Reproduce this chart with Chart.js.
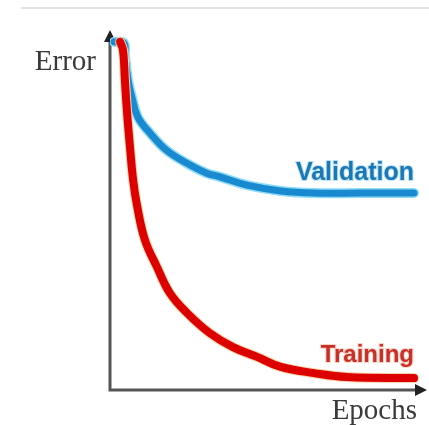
<!DOCTYPE html>
<html lang="en">
<head>
    <meta charset="UTF-8">
    <title>Error vs Epochs</title>
    <script src="https://cdn.jsdelivr.net/npm/chart.js@4.4.0/dist/chart.umd.min.js"></script>
    <style>
        body { margin: 0; background: #fff; }
    </style>
</head>
<body>

    <canvas id="myChart" width="429" height="425"></canvas>

    <script>
// curve points (x = epochs, y = error, both 0..100)
const validationX = [1.3, 4.4, 4.7, 5.7, 6.9, 8.8, 12.6, 17.7, 24.0, 30.3, 34.7, 43.2, 53.9, 64.4, 78.9, 95.9];
const validationY = [96.7, 96.4, 93.1, 86.1, 81.4, 75.8, 71.4, 66.7, 63.1, 60.3, 59.2, 56.9, 55.3, 54.7, 54.7, 54.7];

const trainingX = [3.2, 4.1, 4.7, 5.4, 6.3, 7.3, 8.5, 11.0, 14.8, 18.9, 24.3, 31.5, 38.8, 46.4, 53.9, 64.4, 74.8, 95.9];
const trainingY = [96.7, 94.4, 86.1, 76.9, 67.5, 58.3, 51.4, 41.7, 34.2, 26.9, 21.4, 15.8, 11.9, 9.2, 6.4, 4.7, 3.6, 3.3];

const axisLabels = ['Epochs', 'Error'];
const seriesLabels = ['Validation', 'Training'];

function points(xs, ys) {
    return xs.map((x, i) => ({ x: x, y: ys[i] }));
}

// axes with arrows, labels and the curve names
const decor = {
    id: 'decor',
    beforeDatasetsDraw(chart) {
        const ctx = chart.ctx;
        const a = chart.chartArea;
        ctx.save();
        // thin grey rule at the top
        ctx.strokeStyle = '#e2e2e2';
        ctx.lineWidth = 2;
        ctx.beginPath();
        ctx.moveTo(21, 8);
        ctx.lineTo(429, 8);
        ctx.stroke();

        ctx.strokeStyle = '#555';
        ctx.lineWidth = 3;
        ctx.beginPath();
        ctx.moveTo(a.left, a.top + 6);
        ctx.lineTo(a.left, a.bottom);
        ctx.lineTo(a.right - 6, a.bottom);
        ctx.stroke();

        ctx.fillStyle = '#222';
        ctx.beginPath();
        ctx.moveTo(a.left, a.top);
        ctx.lineTo(a.left - 6, a.top + 12);
        ctx.lineTo(a.left + 6, a.top + 12);
        ctx.closePath();
        ctx.fill();
        ctx.beginPath();
        ctx.moveTo(a.right, a.bottom);
        ctx.lineTo(a.right - 12, a.bottom - 6);
        ctx.lineTo(a.right - 12, a.bottom + 6);
        ctx.closePath();
        ctx.fill();

        ctx.fillStyle = '#3a3a3a';
        ctx.font = '29px "Liberation Serif", "DejaVu Serif", serif';
        ctx.textBaseline = 'alphabetic';
        ctx.textAlign = 'right';
        ctx.fillText(axisLabels[1], 96, 70);
        ctx.fillText(axisLabels[0], 417, 419);
        ctx.restore();
    },
    afterDatasetsDraw(chart) {
        const ctx = chart.ctx;
        ctx.save();
        ctx.font = 'bold 25px "Liberation Sans", Arial, sans-serif';
        ctx.textAlign = 'right';
        ctx.textBaseline = 'alphabetic';
        ctx.lineWidth = 2;
        ctx.strokeStyle = 'rgba(120,200,240,0.5)';
        ctx.strokeText(seriesLabels[0], 414, 180);
        ctx.fillStyle = '#1c78b4';
        ctx.fillText(seriesLabels[0], 414, 180);
        ctx.font = 'bold 24px "Liberation Sans", Arial, sans-serif';
        ctx.strokeStyle = 'rgba(240,170,140,0.5)';
        ctx.strokeText(seriesLabels[1], 414, 362);
        ctx.fillStyle = '#c9302a';
        ctx.fillText(seriesLabels[1], 414, 362);
        ctx.restore();
    }
};

const ctx = document.getElementById('myChart').getContext('2d');

// higher "order" is drawn first (underneath)
const myChart = new Chart(ctx, {
    type: 'line',
    data: {
        datasets: [{
            label: seriesLabels[0] + ' glow',
            data: points(validationX, validationY),
            borderColor: '#8fdcf7',
            borderWidth: 10,
            pointRadius: 0,
            tension: 0.4,
            borderCapStyle: 'round',
            order: 4
        }, {
            label: seriesLabels[0],
            data: points(validationX, validationY),
            borderColor: '#1a8ad0',
            borderWidth: 7,
            pointRadius: 0,
            tension: 0.4,
            borderCapStyle: 'round',
            order: 3
        }, {
            label: seriesLabels[1] + ' glow',
            data: points(trainingX, trainingY),
            borderColor: '#f8d2a8',
            borderWidth: 10,
            pointRadius: 0,
            tension: 0.4,
            borderCapStyle: 'round',
            order: 2
        }, {
            label: seriesLabels[1],
            data: points(trainingX, trainingY),
            borderColor: '#dd0000',
            borderWidth: 8,
            pointRadius: 0,
            tension: 0.4,
            borderCapStyle: 'round',
            order: 1
        }]
    },
    options: {
        responsive: false,
        animation: false,
        layout: { padding: { left: 110, right: 2, top: 30, bottom: 35 } },
        plugins: { legend: { display: false }, tooltip: { enabled: false } },
        scales: {
            x: { type: 'linear', min: 0, max: 100, display: false },
            y: { type: 'linear', min: 0, max: 100, display: false }
        }
    },
    plugins: [decor]
});
    </script>
</body>
</html>
